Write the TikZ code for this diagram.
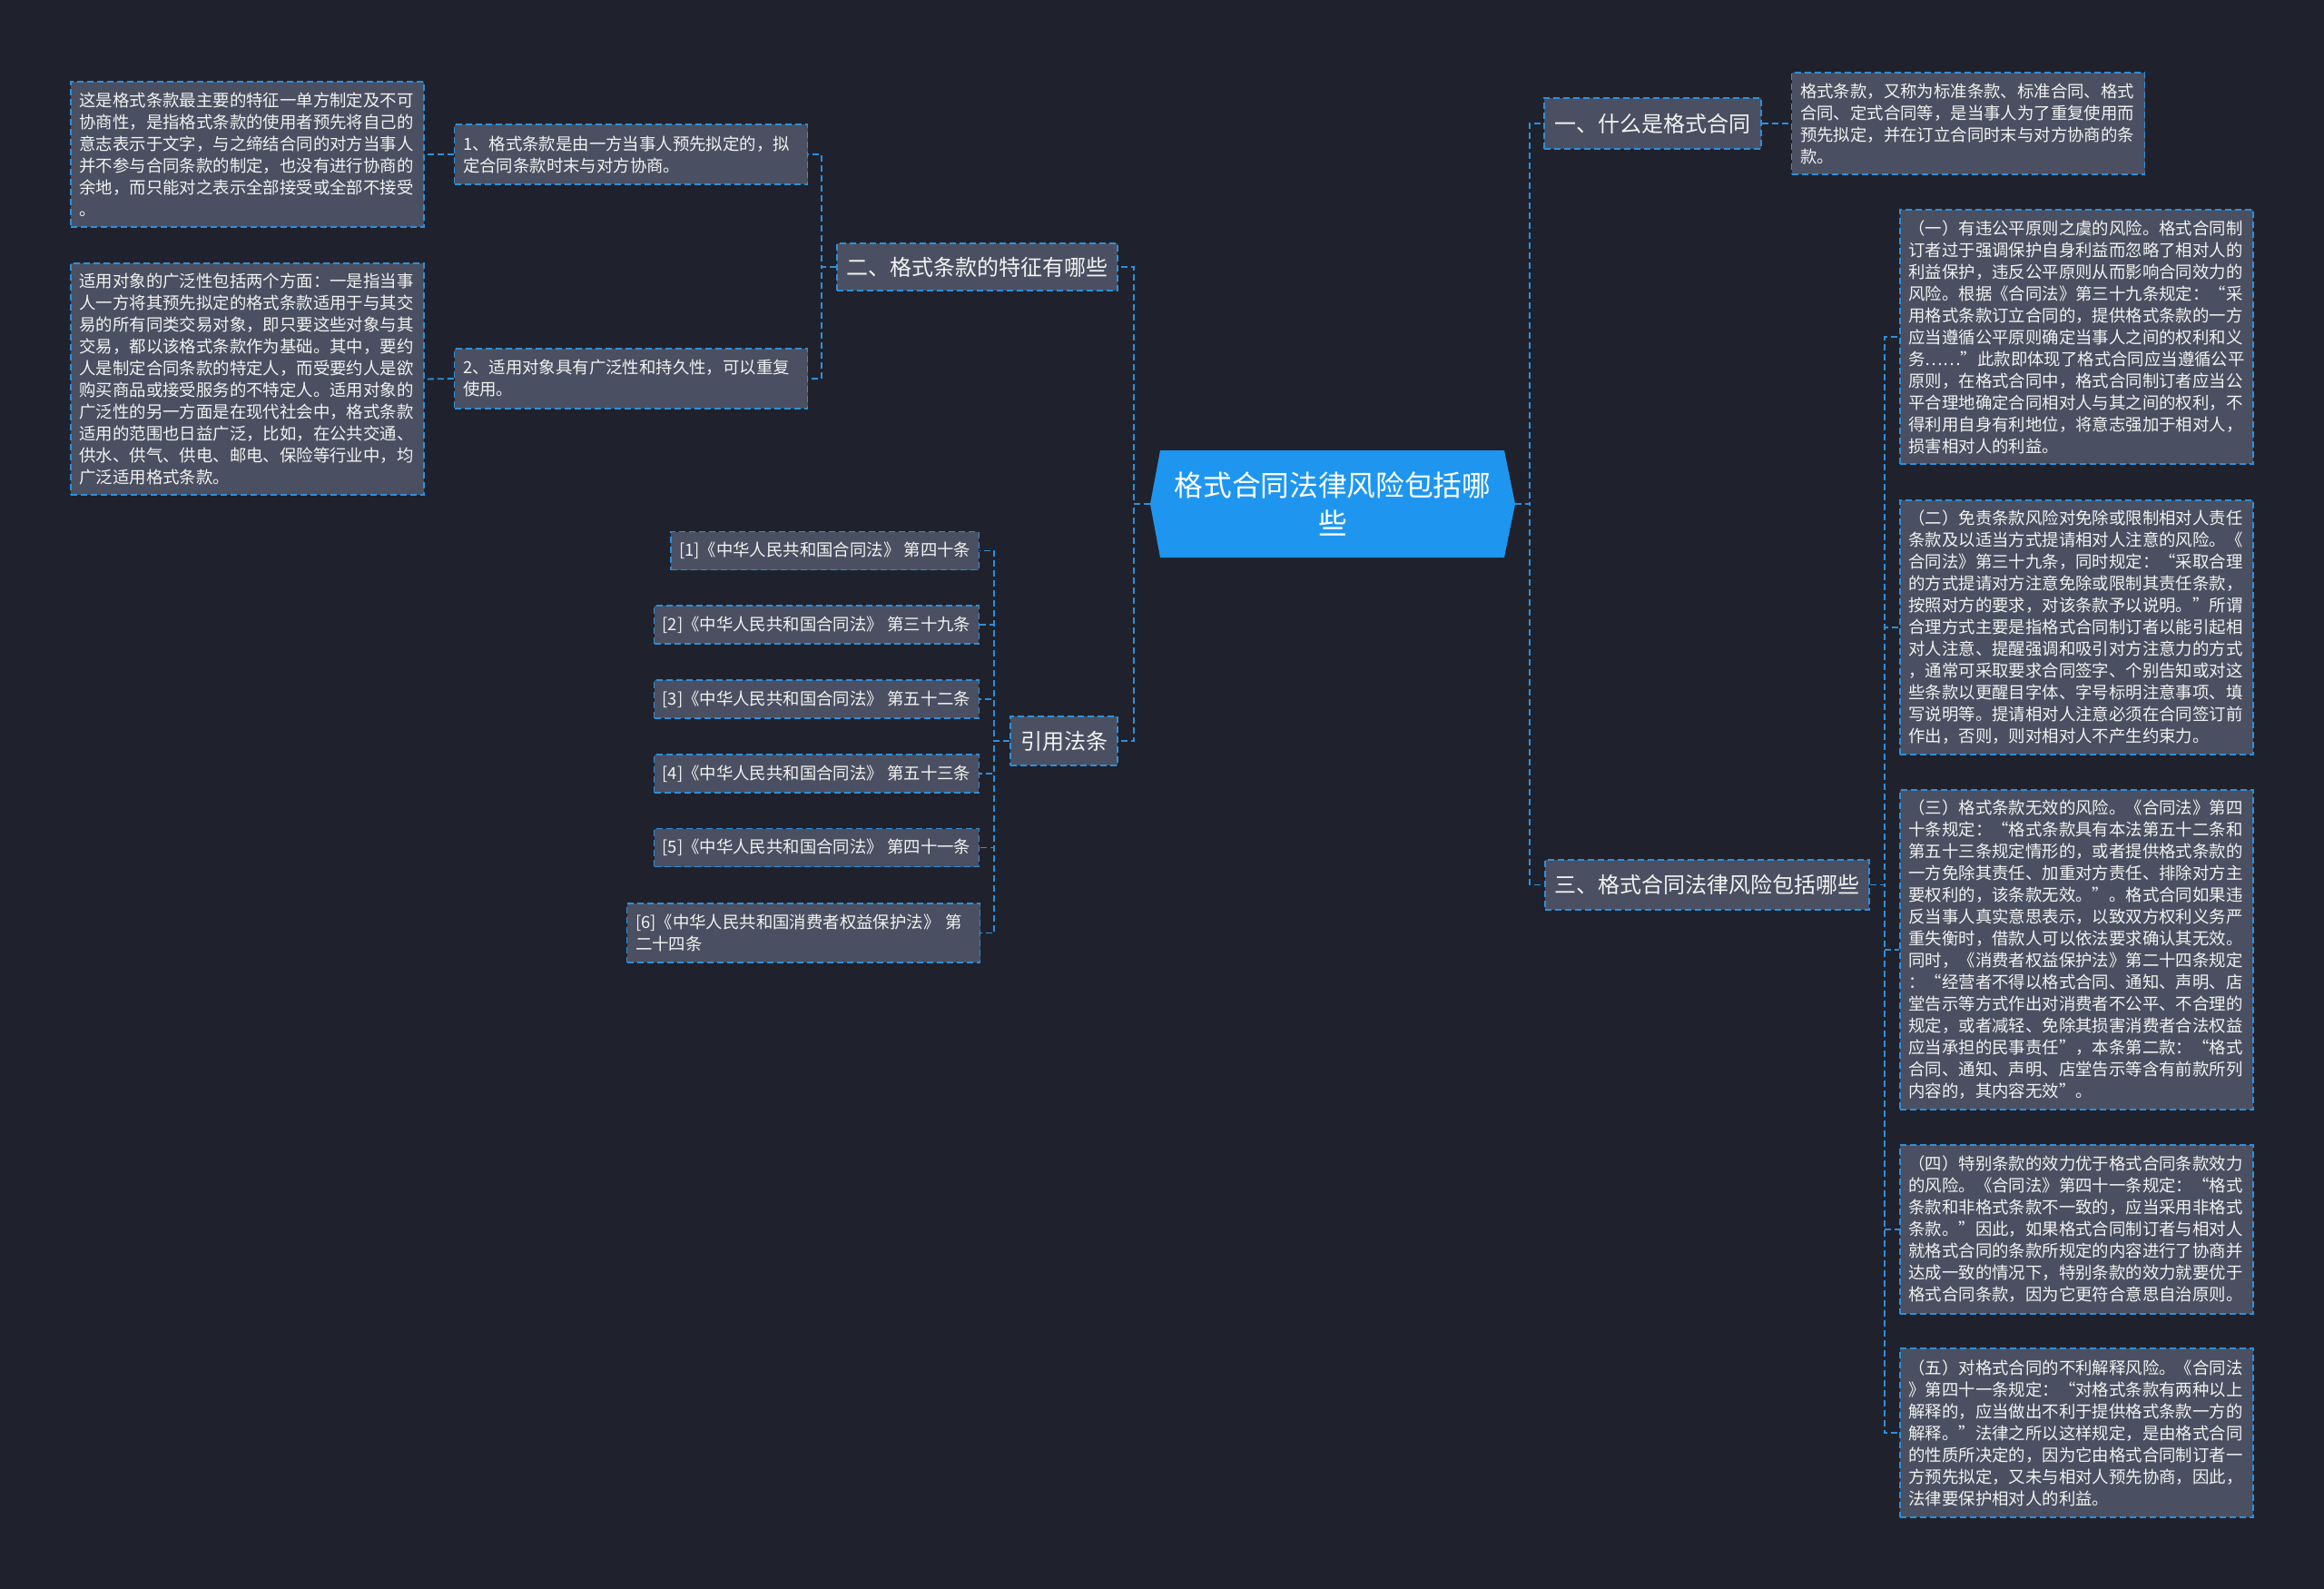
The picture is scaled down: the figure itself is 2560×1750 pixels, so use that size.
\documentclass[tikz,border=0pt]{standalone}
\usepackage{fontspec}
\setmainfont{Noto Sans CJK SC}
\definecolor{bgcol}{HTML}{1F222D}
\definecolor{boxfill}{HTML}{4A5061}
\definecolor{linkblue}{HTML}{2D8FDB}
\definecolor{centerblue}{HTML}{1E96F0}
\definecolor{txt}{HTML}{F2F2F2}
\tikzset{
  box/.style={draw=linkblue, line width=1.5pt, dash pattern=on 7pt off 4pt, fill=boxfill, text=txt, inner ysep=3pt},
  detail/.style={box, text width=370pt, inner xsep=9.5pt, align=left, font=\fontsize{18.4}{24}\selectfont},
  cite/.style={box, anchor=east, inner xsep=9pt, minimum height=42pt, font=\fontsize{18.4}{24}\selectfont},
  level/.style={box, inner xsep=0pt, align=center, font=\fontsize{24}{30}\selectfont},
  conn/.style={draw=linkblue, line width=1.8pt, dash pattern=on 7pt off 4pt}
}
\begin{document}
\begin{tikzpicture}[x=1pt,y=-1pt]
\fill[bgcol] (0,0) rectangle (2560,1750);
\useasboundingbox (0,0) rectangle (2560,1750);

% centre
\fill[centerblue] (1267,555) -- (1278,496) -- (1657,496) -- (1669,555) -- (1657,614) -- (1278,614) -- cycle;
\node[text=white, minimum width=402pt, minimum height=118pt, inner sep=0pt, align=center, font=\fontsize{31.7}{42}\selectfont] (c) at (1468,555) {格式合同法律风险包括哪\\些};

% left branch: 二
\node[level, minimum width=309pt, minimum height=52pt] (n2) at (1076.5,294) {二、格式条款的特征有哪些};
\node[detail, minimum height=66pt] (s1) at (695,170) {1、格式条款是由一方当事人预先拟定的，拟\\定合同条款时末与对方协商。};
\node[detail, minimum height=66pt] (s2) at (695,417) {2、适用对象具有广泛性和持久性，可以重复\\使用。};
\node[detail, minimum height=160pt] (l1) at (272.5,170) {这是格式条款最主要的特征一单方制定及不可\\协商性，是指格式条款的使用者预先将自己的\\意志表示于文字，与之缔结合同的对方当事人\\并不参与合同条款的制定，也没有进行协商的\\余地，而只能对之表示全部接受或全部不接受\\。};
\node[detail, minimum height=255pt] (l2) at (272.5,417.5) {适用对象的广泛性包括两个方面：一是指当事\\人一方将其预先拟定的格式条款适用于与其交\\易的所有同类交易对象，即只要这些对象与其\\交易，都以该格式条款作为基础。其中，要约\\人是制定合同条款的特定人，而受要约人是欲\\购买商品或接受服务的不特定人。适用对象的\\广泛性的另一方面是在现代社会中，格式条款\\适用的范围也日益广泛，比如，在公共交通、\\供水、供气、供电、邮电、保险等行业中，均\\广泛适用格式条款。};

% left branch: 引用法条
\node[level, minimum width=118pt, minimum height=54pt] (ct) at (1172,816) {引用法条};
\node[cite] (r1) at (1079,606.5) {[1]《中华人民共和国合同法》~第四十条};
\node[cite] (r2) at (1079,688) {[2]《中华人民共和国合同法》~第三十九条};
\node[cite] (r3) at (1079,770) {[3]《中华人民共和国合同法》~第五十二条};
\node[cite] (r4) at (1079,852) {[4]《中华人民共和国合同法》~第五十三条};
\node[cite] (r5) at (1079,933.5) {[5]《中华人民共和国合同法》~第四十一条};
\node[detail, minimum height=65pt] (r6) at (885,1027.5) {[6]《中华人民共和国消费者权益保护法》~第\\二十四条};

% right branch: 一
\node[level, minimum width=239pt, minimum height=56pt] (n1) at (1820.5,136) {一、什么是格式合同};
\node[detail, minimum height=112pt] (d1) at (2168,136) {格式条款，又称为标准条款、标准合同、格式\\合同、定式合同等，是当事人为了重复使用而\\预先拟定，并在订立合同时末与对方协商的条\\款。};

% right branch: 三
\node[level, minimum width=357pt, minimum height=55pt] (n3) at (1880.5,974.5) {三、格式合同法律风险包括哪些};
\node[detail, minimum height=280pt] (t1) at (2287.5,371) {（一）有违公平原则之虞的风险。格式合同制\\订者过于强调保护自身利益而忽略了相对人的\\利益保护，违反公平原则从而影响合同效力的\\风险。根据《合同法》第三十九条规定：“采\\用格式条款订立合同的，提供格式条款的一方\\应当遵循公平原则确定当事人之间的权利和义\\务……”此款即体现了格式合同应当遵循公平\\原则，在格式合同中，格式合同制订者应当公\\平合理地确定合同相对人与其之间的权利，不\\得利用自身有利地位，将意志强加于相对人，\\损害相对人的利益。};
\node[detail, minimum height=280pt] (t2) at (2287.5,691) {（二）免责条款风险对免除或限制相对人责任\\条款及以适当方式提请相对人注意的风险。《\\合同法》第三十九条，同时规定：“采取合理\\的方式提请对方注意免除或限制其责任条款，\\按照对方的要求，对该条款予以说明。”所谓\\合理方式主要是指格式合同制订者以能引起相\\对人注意、提醒强调和吸引对方注意力的方式\\，通常可采取要求合同签字、个别告知或对这\\些条款以更醒目字体、字号标明注意事项、填\\写说明等。提请相对人注意必须在合同签订前\\作出，否则，则对相对人不产生约束力。};
\node[detail, minimum height=352pt] (t3) at (2287.5,1046) {（三）格式条款无效的风险。《合同法》第四\\十条规定：“格式条款具有本法第五十二条和\\第五十三条规定情形的，或者提供格式条款的\\一方免除其责任、加重对方责任、排除对方主\\要权利的，该条款无效。”。格式合同如果违\\反当事人真实意思表示，以致双方权利义务严\\重失衡时，借款人可以依法要求确认其无效。\\同时，《消费者权益保护法》第二十四条规定\\：“经营者不得以格式合同、通知、声明、店\\堂告示等方式作出对消费者不公平、不合理的\\规定，或者减轻、免除其损害消费者合法权益\\应当承担的民事责任”，本条第二款：“格式\\合同、通知、声明、店堂告示等含有前款所列\\内容的，其内容无效”。};
\node[detail, minimum height=186pt] (t4) at (2287.5,1354) {（四）特别条款的效力优于格式合同条款效力\\的风险。《合同法》第四十一条规定：“格式\\条款和非格式条款不一致的，应当采用非格式\\条款。”因此，如果格式合同制订者与相对人\\就格式合同的条款所规定的内容进行了协商并\\达成一致的情况下，特别条款的效力就要优于\\格式合同条款，因为它更符合意思自治原则。};
\node[detail, minimum height=186pt] (t5) at (2287.5,1578) {（五）对格式合同的不利解释风险。《合同法\\》第四十一条规定：“对格式条款有两种以上\\解释的，应当做出不利于提供格式条款一方的\\解释。”法律之所以这样规定，是由格式合同\\的性质所决定的，因为它由格式合同制订者一\\方预先拟定，又未与相对人预先协商，因此，\\法律要保护相对人的利益。};

% connectors
\draw[conn] (c.west) -- ++(-18,0) |- (n2.east);
\draw[conn] (c.west) -- ++(-18,0) |- (ct.east);
\draw[conn] (c.east) -- ++(16,0) |- (n1.west);
\draw[conn] (c.east) -- ++(16,0) |- (n3.west);
\draw[conn] (n2.west) -- ++(-16,0) |- (s1.east);
\draw[conn] (n2.west) -- ++(-16,0) |- (s2.east);
\draw[conn] (s1.west) -- (l1.east);
\draw[conn] (s2.west) -- (l2.east);
\foreach \r in {r1,r2,r3,r4,r5,r6} \draw[conn] (ct.west) -- ++(-17,0) |- (\r.east);
\draw[conn] (n1.east) -- (d1.west);
\foreach \t in {t1,t2,t3,t4,t5} \draw[conn] (n3.east) -- ++(16,0) |- (\t.west);
\end{tikzpicture}
\end{document}
